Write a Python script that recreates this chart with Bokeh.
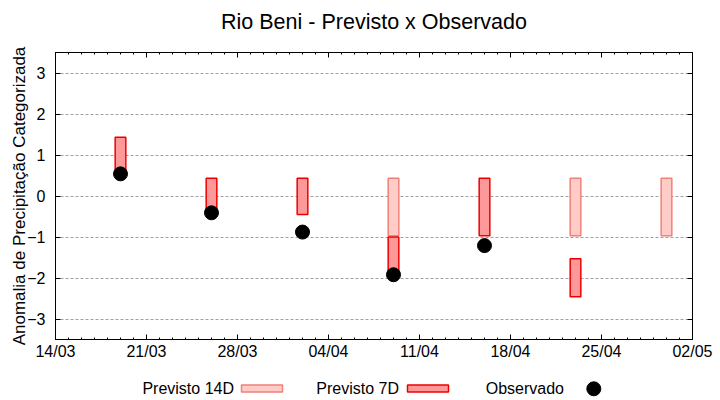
import pandas as pd
from bokeh.plotting import figure
from bokeh.models import (Range1d, FixedTicker, DatetimeTickFormatter, LinearAxis,
                          DatetimeAxis, CustomJSTickFormatter)
from bokeh.layouts import column
from bokeh.embed import file_html
from bokeh.resources import INLINE
from bokeh.core.properties import value

# ---------------- data ----------------
title_text = "Rio Beni - Previsto x Observado"
y_label = "Anomalia de Precipitação Categorizada"

prev14_dates = ["2025-04-09", "2025-04-23", "2025-04-30"]
prev14_top = [0.43, 0.43, 0.43]
prev14_bottom = [-0.97, -0.97, -0.97]

prev7_dates = ["2025-03-19", "2025-03-26", "2025-04-02", "2025-04-09", "2025-04-16", "2025-04-23"]
prev7_top = [1.43, 0.43, 0.43, -1.0, 0.43, -1.53]
prev7_bottom = [0.5, -0.45, -0.45, -1.95, -0.97, -2.46]

obs_dates = ["2025-03-19", "2025-03-26", "2025-04-02", "2025-04-09", "2025-04-16"]
obs_values = [0.54, -0.41, -0.88, -1.92, -1.21]

x_start, x_end = "2025-03-14", "2025-05-02"
tick_dates = ["2025-03-14", "2025-03-21", "2025-03-28", "2025-04-04",
              "2025-04-11", "2025-04-18", "2025-04-25", "2025-05-02"]
y_ticks = [-3, -2, -1, 0, 1, 2, 3]
y_min, y_max = -3.5, 3.5

legend_labels = ["Previsto 14D", "Previsto 7D", "Observado"]

# ---------------- styles ----------------
FONT = "Liberation Sans"
C14_FILL, C14_LINE = "#ffccc8", "#f08078"
C7_FILL, C7_LINE = "#ff9999", "#ee0000"
DAY_MS = 86400000.0
W = 720
FRAME_L, FRAME_R = 55, 692          # page pixels of the plot frame
TITLE_H, MAIN_H, LEG_H = 40, 332, 28


def ms(d):
    return pd.Timestamp(d).value / 1e6


def strip(height, y0):
    """A bare figure whose frame spans FRAME_L..FRAME_R, with page-pixel coordinates."""
    f = figure(width=W, height=height, x_range=Range1d(FRAME_L, FRAME_R),
               y_range=Range1d(y0 + height, y0),
               output_backend="svg", toolbar_location=None,
               min_border_left=FRAME_L, min_border_right=W - FRAME_R,
               min_border_top=0, min_border_bottom=0,
               border_fill_color="white", background_fill_color="white")
    f.axis.visible = False
    f.grid.visible = False
    f.outline_line_color = None
    f.title.visible = False
    return f


# ---------------- title strip ----------------
tfig = strip(TITLE_H, 0)
tfig.text(x=[(FRAME_L + FRAME_R) / 2], y=[21.5], text=[title_text],
          text_align="center", text_baseline="alphabetic", text_font=value(FONT),
          text_font_size="21.5px", text_color="#000000")

# ---------------- main plot ----------------
p = figure(width=W, height=MAIN_H, x_axis_type="datetime",
           x_range=Range1d(ms(x_start), ms(x_end)), y_range=Range1d(y_min, y_max),
           output_backend="svg", toolbar_location=None,
           min_border_left=FRAME_L, min_border_right=W - FRAME_R,
           min_border_top=12, min_border_bottom=33,
           background_fill_color="white", border_fill_color="white")
p.title.visible = False

p.outline_line_color = "black"
p.outline_line_width = 1

x_ticker = FixedTicker(ticks=[ms(d) for d in tick_dates],
                       minor_ticks=list(pd.date_range(x_start, x_end, freq="D").astype("int64") / 1e6))
y_ticker = FixedTicker(ticks=y_ticks, minor_ticks=[])

fmt = DatetimeTickFormatter(milliseconds="%d/%m", seconds="%d/%m", minsec="%d/%m",
                            minutes="%d/%m", hourmin="%d/%m", hours="%d/%m",
                            days="%d/%m", months="%d/%m", years="%d/%m")


def style_axis(ax):
    ax.axis_line_color = "black"
    ax.axis_line_width = 1
    ax.major_tick_line_color = "black"
    ax.minor_tick_line_color = "black"
    ax.major_tick_in = 5
    ax.major_tick_out = 0
    ax.minor_tick_in = 2
    ax.minor_tick_out = 0
    ax.major_label_text_font = FONT
    ax.major_label_text_font_size = "16px"
    ax.major_label_text_color = "#000000"


xa = p.xaxis[0]
xa.ticker = x_ticker
xa.formatter = fmt
style_axis(xa)
xa.major_label_standoff = 3

ya = p.yaxis[0]
ya.ticker = y_ticker
style_axis(ya)
ya.major_label_standoff = 10
ya.axis_label = y_label
ya.axis_label_text_font = FONT
ya.axis_label_text_font_size = "17px"
ya.axis_label_text_font_style = "normal"
ya.axis_label_text_color = "#000000"
ya.axis_label_standoff = -5

blank = CustomJSTickFormatter(code="return ''")
top_ax = DatetimeAxis(ticker=x_ticker, formatter=blank)
style_axis(top_ax)
top_ax.major_label_standoff = 0
top_ax.axis_label_standoff = 0
p.add_layout(top_ax, "above")

right_ax = LinearAxis(ticker=y_ticker, formatter=blank)
style_axis(right_ax)
right_ax.major_label_standoff = 0
right_ax.axis_label_standoff = 0
p.add_layout(right_ax, "right")

p.xgrid.visible = False
p.ygrid.ticker = y_ticker
p.ygrid.grid_line_color = "#a0a0a0"
p.ygrid.grid_line_dash = "3 2"
p.ygrid.grid_line_width = 1

bar_w = 0.82 * DAY_MS
p.vbar(x=pd.to_datetime(prev14_dates), top=prev14_top, bottom=prev14_bottom, width=bar_w,
       fill_color=C14_FILL, line_color=C14_LINE, line_width=1.5)
p.vbar(x=pd.to_datetime(prev7_dates), top=prev7_top, bottom=prev7_bottom, width=bar_w,
       fill_color=C7_FILL, line_color=C7_LINE, line_width=1.5)
p.scatter(x=pd.to_datetime(obs_dates), y=obs_values, size=14, marker="circle",
          fill_color="black", line_color="black")

# ---------------- legend strip ----------------
leg = strip(LEG_H, TITLE_H + MAIN_H)
leg.text(x=[233.5, 398.5, 563.5], y=[387.5, 387.5, 387.5], text=legend_labels,
         text_align="right", text_baseline="alphabetic", text_font=value(FONT),
         text_font_size="16px", text_color="#000000")
leg.quad(left=[241], right=[282], top=[384.5], bottom=[391.5],
         fill_color=C14_FILL, line_color=C14_LINE, line_width=1.5)
leg.quad(left=[407], right=[448], top=[384.5], bottom=[391.5],
         fill_color=C7_FILL, line_color=C7_LINE, line_width=1.5)
leg.scatter(x=[593.3], y=[388.3], size=14, marker="circle",
            fill_color="black", line_color="black")

layout = column(tfig, p, leg, spacing=0)
open("out.html", "w").write(file_html(layout, INLINE))
